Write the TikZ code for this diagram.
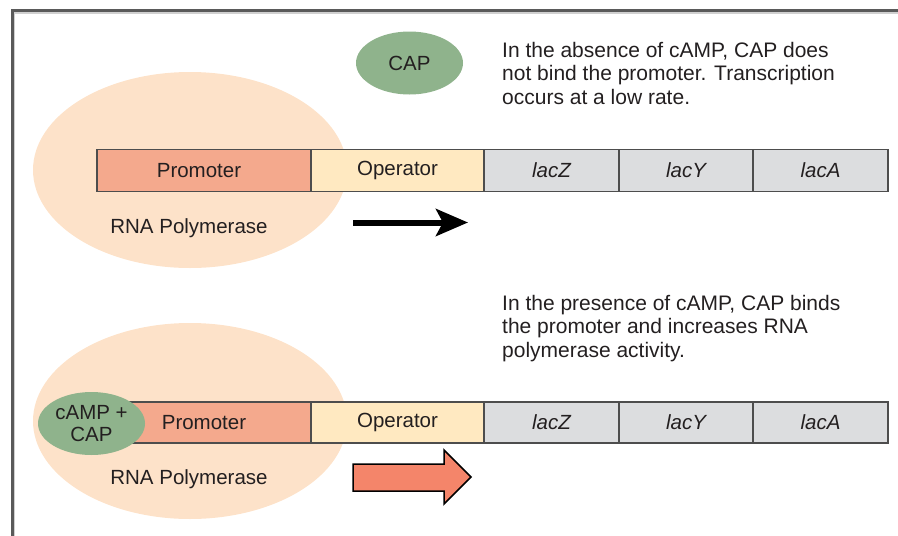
\documentclass[tikz,border=0pt]{standalone}
\usepackage{fontspec}
\setmainfont{Liberation Sans}
\usetikzlibrary{arrows.meta,shapes.geometric}
\definecolor{peach}{HTML}{FDE2C9}
\definecolor{promfill}{HTML}{F4A98D}
\definecolor{operfill}{HTML}{FFE9C1}
\definecolor{genefill}{HTML}{DCDDDF}
\definecolor{capgreen}{HTML}{8FB38C}
\definecolor{arrowred}{HTML}{F4856A}
\definecolor{framegray}{HTML}{5A5A5A}
\definecolor{framelight}{HTML}{D0D0D0}
\definecolor{txt}{HTML}{231F20}
\definecolor{cellline}{HTML}{4D4D4D}
\tikzset{
  polymerase/.style={ellipse, fill=peach, draw=none, minimum width=314pt, minimum height=196pt, inner sep=0pt},
  capnode/.style={ellipse, fill=capgreen, draw=none, minimum width=107pt, minimum height=63pt, inner sep=0pt, text=txt, align=center},
  cell/.style={draw=cellline, line width=1.5pt, minimum height=42pt, inner sep=0pt, outer sep=0pt, text=txt, anchor=west},
  desc/.style={anchor=base west, align=left, inner sep=0pt, text=txt, font=\fontsize{21}{23.5}\selectfont},
  lbl/.style={inner sep=0pt, text=txt}
}
\begin{document}
\begin{tikzpicture}[x=1pt,y=-1pt,font=\fontsize{20.5}{23.5}\selectfont]
\useasboundingbox (0,0) rectangle (898,536);
% frame
\draw[line width=1.5pt, framelight] (14.5,536) -- (14.5,13) -- (898,13);
\draw[line width=3pt, framegray] (12,536) -- (12,10.5) -- (898,10.5);

% ---------- top panel ----------
\node[polymerase] (pol1) at (190,170) {};
\node[cell, fill=promfill, minimum width=214pt] (pro1) at (97,170.5) {\hspace*{-10pt}Promoter};
\node[cell, fill=operfill, minimum width=173pt] (op1) at (pro1.east) {Operator};
\node[cell, fill=genefill, minimum width=135pt] (z1) at (op1.east) {\itshape lacZ};
\node[cell, fill=genefill, minimum width=134pt] (y1) at (z1.east) {\itshape lacY};
\node[cell, fill=genefill, minimum width=135pt] (a1) at (y1.east) {\itshape lacA};
\node[lbl] (rna1) at (189,228) {RNA Polymerase};
\node[capnode] (cap1) at (409.5,63) {CAP};
\node[desc] (t1) at (502,104) {In the absence of cAMP, CAP does\\not bind the promoter. Transcription\\occurs at a low rate.};
\coordinate (bs) at (353,222.5);
\coordinate (be) at (468,222.5);
\draw[line width=6pt, -{Stealth[length=32pt,width=27pt,inset=7pt]}] (bs) -- (be);

% ---------- bottom panel ----------
\node[polymerase] (pol2) at (190,421) {};
\node[cell, fill=promfill, minimum width=214pt, minimum height=41pt] (pro2) at (97,422.5) {Promoter};
\node[cell, fill=operfill, minimum width=173pt, minimum height=41pt] (op2) at (pro2.east) {Operator};
\node[cell, fill=genefill, minimum width=135pt, minimum height=41pt] (z2) at (op2.east) {\itshape lacZ};
\node[cell, fill=genefill, minimum width=134pt, minimum height=41pt] (y2) at (z2.east) {\itshape lacY};
\node[cell, fill=genefill, minimum width=135pt, minimum height=41pt] (a2) at (y2.east) {\itshape lacA};
\node[capnode, minimum width=107pt, minimum height=63pt] (cap2) at (91.5,423.5) {cAMP +\\[-1pt]CAP};
\node[lbl] (rna2) at (189,479) {RNA Polymerase};
\node[desc] (t2) at (502,357) {In the presence of cAMP, CAP binds\\the promoter and increases RNA\\polymerase activity.};
\coordinate (r1) at (353,464);
\coordinate (r2) at (444,464);
\coordinate (r3) at (444,450);
\coordinate (r4) at (471,477);
\coordinate (r5) at (444,504);
\coordinate (r6) at (444,491);
\coordinate (r7) at (353,491);
\draw[fill=arrowred, line width=1.5pt, line join=miter] (r1) -- (r2) -- (r3) -- (r4) -- (r5) -- (r6) -- (r7) -- cycle;
\end{tikzpicture}
\end{document}
